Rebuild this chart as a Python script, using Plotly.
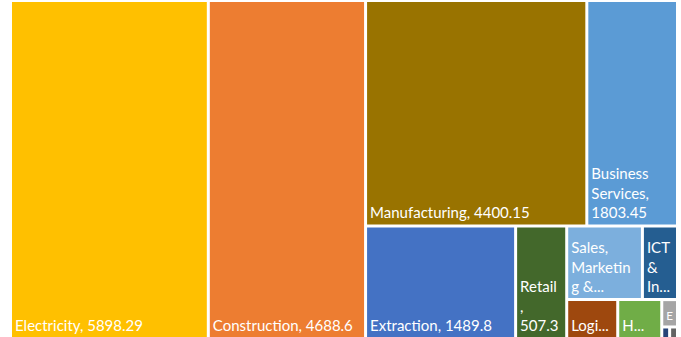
import plotly.graph_objects as go

# Sector data (small ones estimated from areas)
sectors = ["Electricity", "Construction", "Manufacturing", "Business Services",
           "Extraction", "Retail", "Sales, Marketing & Advertising",
           "ICT & Infrastructure", "Logistics", "Hospitality", "Education",
           "Other Services", "Other"]
values = [5898.29, 4688.6, 4400.15, 1803.45, 1489.8, 507.3, 492, 228,
          175, 151, 38, 8, 8]
# Labels as they are displayed (truncated / wrapped) in the reference
shown = ["Electricity, 5898.29", "Construction, 4688.6", "Manufacturing, 4400.15",
         "Business<br>Services,<br>1803.45", "Extraction, 1489.8",
         "Retail<br>,<br>507.3", "Sales,<br>Marketin<br>g &...",
         "ICT<br>&<br>In...", "Logi...", "H...", "E", "", ""]
colors = ["#FFC000", "#ED7D31", "#997300", "#5B9BD5", "#4472C4", "#43682B",
          "#7CAFDD", "#255E91", "#9E480E", "#70AD47", "#A5A5A5", "#264478",
          "#636363"]
# Layout grouping (mirrors the tiling of the reference)
sector_parent = ["root", "root", "g2", "g2", "g3", "g3", "g5", "g5",
                 "g6", "g6", "g7", "g8", "g8"]
groups = ["root", "g1", "g2", "g3", "g4", "g5", "g6", "g7", "g8"]
group_parent = ["", "root", "g1", "g1", "g3", "g4", "g4", "g6", "g7"]

ids = sectors + groups
labels = sectors + [""] * len(groups)
parents = sector_parent + group_parent
vals = values + [0] * len(groups)
texts = shown + [""] * len(groups)
cols = colors + ["white"] * len(groups)

fig = go.Figure(go.Treemap(
    ids=ids, labels=labels, parents=parents, values=vals,
    branchvalues="remainder", sort=False,
    text=texts, textinfo="text", texttemplate="%{text}",
    textposition="bottom left",
    textfont=dict(family="Lato", size=15, color="white"),
    marker=dict(colors=cols, line=dict(width=0), depthfade=False,
                pad=dict(t=0, l=0, r=0, b=0)),
    tiling=dict(packing="slice-dice", pad=3),
    pathbar=dict(visible=False),
    hoverinfo="label+value",
))
fig.update_layout(width=681, height=337,
                  margin=dict(l=12, r=5, t=2, b=0),
                  paper_bgcolor="white", plot_bgcolor="white")
fig.write_html("out.html")
